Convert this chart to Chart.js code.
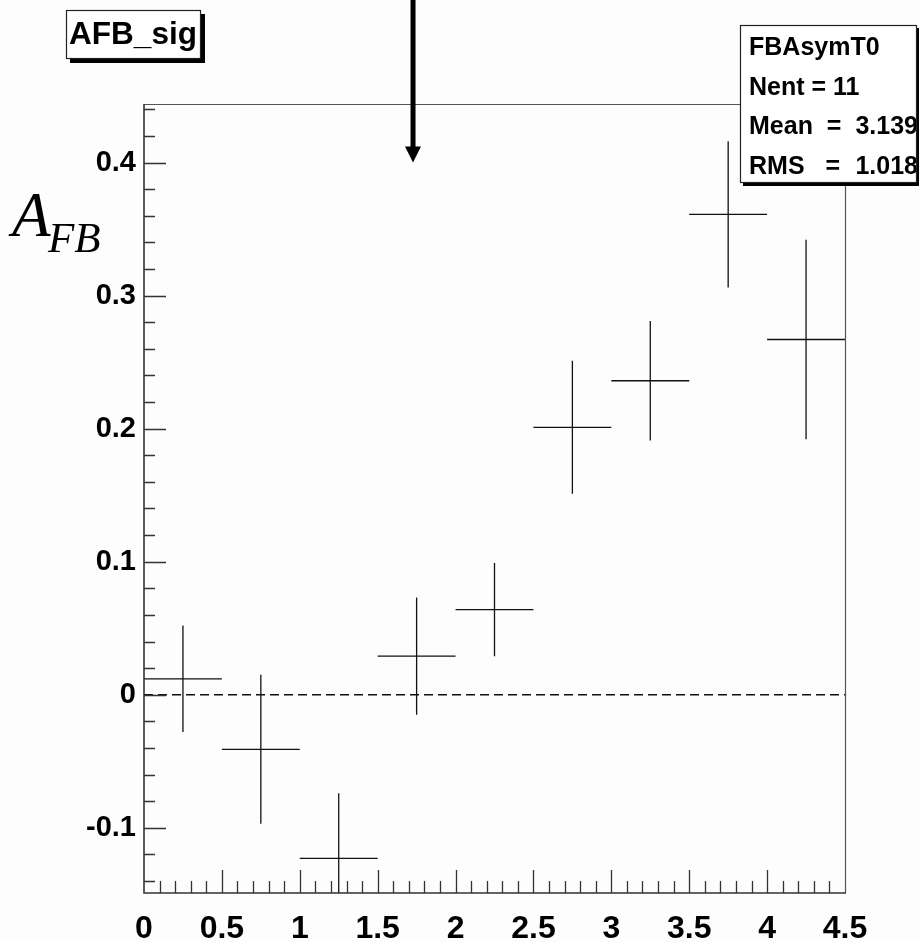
<!DOCTYPE html>
<html>
<head>
<meta charset="utf-8">
<script src="https://cdn.jsdelivr.net/npm/chart.js@4/dist/chart.umd.min.js"></script>
<style>
html, body { margin: 0; padding: 0; background: #fdfdfd; }
#wrap { width: 919px; height: 942px; }
</style>
</head>
<body>
<div id="wrap"><canvas id="afbChart"></canvas></div>
<script>
// histogramm: forward-backward asymmetry per bin
const binCenters = [0.25, 0.75, 1.25, 1.75, 2.25, 2.75, 3.25, 3.75, 4.25];
const binHalfWidth = 0.25;
const afbValues = [0.012, -0.041, -0.123, 0.029, 0.064, 0.201, 0.236, 0.361, 0.267];
const afbErrors = [0.040, 0.056, 0.049, 0.044, 0.035, 0.050, 0.045, 0.055, 0.075];

const xTicks = [0, 0.5, 1, 1.5, 2, 2.5, 3, 3.5, 4, 4.5];
const xTickLabels = ['0', '0.5', '1', '1.5', '2', '2.5', '3', '3.5', '4', '4.5'];
const yTicks = [-0.1, 0, 0.1, 0.2, 0.3, 0.4];
const yTickLabels = ['-0.1', '0', '0.1', '0.2', '0.3', '0.4'];
const xRange = [0, 4.5];
const yRange = [-0.149, 0.444];

const statsTitle = 'FBAsymT0';
const statsNames = ['Nent = 11', 'Mean  =', 'RMS   ='];
const statsValues = ['', '3.139', '1.018'];
const arrowAt = { x: 1.727, y: 0.4 };

const sans = '"Liberation Sans", Arial, sans-serif';
const serif = '"Liberation Serif", "Times New Roman", serif';

// segments for the bins, null breaks the line between bins
const horizSegs = [];
const vertSegs = [];
binCenters.forEach((c, i) => {
    horizSegs.push({ x: c - binHalfWidth, y: afbValues[i] }, { x: c + binHalfWidth, y: afbValues[i] }, { x: c, y: null });
    vertSegs.push({ x: c, y: afbValues[i] - afbErrors[i] }, { x: c, y: afbValues[i] + afbErrors[i] }, { x: c, y: null });
});
const zeroLine = [{ x: xRange[0], y: 0 }, { x: xRange[1], y: 0 }];

function boxWithShadow(ctx, x, y, w, h, sh) {
    ctx.fillStyle = '#000';
    ctx.fillRect(x + sh, y + sh, w, h);
    ctx.fillStyle = '#fff';
    ctx.fillRect(x, y, w, h);
    ctx.strokeStyle = '#222';
    ctx.lineWidth = 1.2;
    ctx.strokeRect(x + 0.5, y + 0.5, w - 1, h - 1);
}

const rootStyle = {
    id: 'rootStyle',
    beforeDraw(chart) {
        const ctx = chart.ctx;
        ctx.save();
        ctx.fillStyle = '#fdfdfd';
        ctx.fillRect(0, 0, chart.width, chart.height);
        ctx.restore();
    },
    afterDraw(chart) {
        const ctx = chart.ctx;
        const a = chart.chartArea;
        const xs = chart.scales.x, ys = chart.scales.y;
        ctx.save();

        // frame
        ctx.strokeStyle = '#555';
        ctx.lineWidth = 1.2;
        ctx.beginPath();
        ctx.moveTo(a.left, a.top + 0.5); ctx.lineTo(a.right, a.top + 0.5);
        ctx.moveTo(a.right + 0.5, a.top); ctx.lineTo(a.right + 0.5, a.bottom);
        ctx.stroke();
        ctx.strokeStyle = '#333';
        ctx.lineWidth = 1.6;
        ctx.beginPath();
        ctx.moveTo(a.left, a.top); ctx.lineTo(a.left, a.bottom); ctx.lineTo(a.right + 1, a.bottom);
        ctx.stroke();

        // inward ticks
        ctx.lineWidth = 1.3;
        ctx.strokeStyle = '#333';
        ctx.beginPath();
        for (let k = -7; k <= 22; k++) {
            const v = k * 0.02;
            const py = Math.round(ys.getPixelForValue(v)) + 0.5;
            const len = (k % 5 === 0) ? 22 : 11;
            ctx.moveTo(a.left, py); ctx.lineTo(a.left + len, py);
        }
        for (let k = 1; k < 45; k++) {
            const v = k * 0.1;
            const px = Math.round(xs.getPixelForValue(v)) + 0.5;
            const len = (k % 5 === 0) ? 23 : 12;
            ctx.moveTo(px, a.bottom); ctx.lineTo(px, a.bottom - len);
        }
        ctx.stroke();

        // arrow
        const ax = xs.getPixelForValue(arrowAt.x);
        const ay = ys.getPixelForValue(arrowAt.y);
        ctx.fillStyle = '#000';
        ctx.fillRect(ax - 2.5, 0, 5, ay - 14);
        ctx.beginPath();
        ctx.moveTo(ax - 8, ay - 16); ctx.lineTo(ax + 8, ay - 16); ctx.lineTo(ax, ay);
        ctx.closePath();
        ctx.fill();

        // title box
        boxWithShadow(ctx, 66, 10, 135, 49, 4);
        ctx.fillStyle = '#000';
        ctx.font = 'bold 31px ' + sans;
        ctx.textBaseline = 'alphabetic';
        const tw = ctx.measureText('AFB_sig').width;
        ctx.save();
        ctx.translate(69, 44);
        ctx.scale(128 / tw, 1);
        ctx.fillText('AFB_sig', 0, 0);
        ctx.restore();

        // stats box
        boxWithShadow(ctx, 740, 25, 177, 158, 3);
        ctx.save();
        ctx.beginPath();
        ctx.rect(741, 26, 175, 156);
        ctx.clip();
        ctx.fillStyle = '#000';
        ctx.font = 'bold 25px ' + sans;
        ctx.textAlign = 'left';
        ctx.fillText(statsTitle, 749, 55);
        statsNames.forEach((n, i) => {
            const by = 95 + i * 39.3;
            ctx.textAlign = 'left';
            ctx.fillText(n, 749, by);
            ctx.textAlign = 'right';
            ctx.fillText(statsValues[i], 918, by);
        });
        ctx.restore();

        // y axis title
        ctx.fillStyle = '#000';
        ctx.textAlign = 'left';
        ctx.font = 'italic 63px ' + serif;
        ctx.fillText('A', 12, 236);
        ctx.font = 'italic 43px ' + serif;
        ctx.fillText('FB', 48, 252);

        ctx.restore();
    }
};

const lineStyle = { showLine: true, pointRadius: 0, spanGaps: false, borderColor: '#111', borderWidth: 1.3, fill: false };

new Chart(document.getElementById('afbChart'), {
    type: 'scatter',
    data: {
        datasets: [
            Object.assign({ label: 'bins', data: horizSegs }, lineStyle),
            Object.assign({ label: 'errors', data: vertSegs }, lineStyle),
            Object.assign({ label: 'zero', data: zeroLine }, lineStyle, { borderDash: [9, 5], borderWidth: 1.6 })
        ]
    },
    options: {
        responsive: true,
        maintainAspectRatio: false,
        animation: false,
        layout: { padding: { left: 0, top: 104, right: 74, bottom: 0 } },
        plugins: { legend: { display: false }, tooltip: { enabled: false } },
        scales: {
            x: {
                type: 'linear',
                min: xRange[0],
                max: xRange[1],
                afterBuildTicks: (s) => { s.ticks = xTicks.map(v => ({ value: v })); },
                afterFit: (s) => { s.height = 49; },
                grid: { display: false },
                border: { display: false },
                ticks: {
                    autoSkip: false,
                    maxRotation: 0,
                    padding: 9,
                    color: '#000',
                    font: { family: sans, size: 32, weight: 'bold' },
                    callback: (v, i) => xTickLabels[i]
                }
            },
            y: {
                type: 'linear',
                min: yRange[0],
                max: yRange[1],
                afterBuildTicks: (s) => { s.ticks = yTicks.map(v => ({ value: v })); },
                afterFit: (s) => { s.width = 144; },
                grid: { display: false },
                border: { display: false },
                ticks: {
                    autoSkip: false,
                    padding: 0,
                    color: '#000',
                    font: { family: sans, size: 29, weight: 'bold' },
                    callback: (v, i) => yTickLabels[i]
                }
            }
        }
    },
    plugins: [rootStyle]
});
</script>
</body>
</html>
